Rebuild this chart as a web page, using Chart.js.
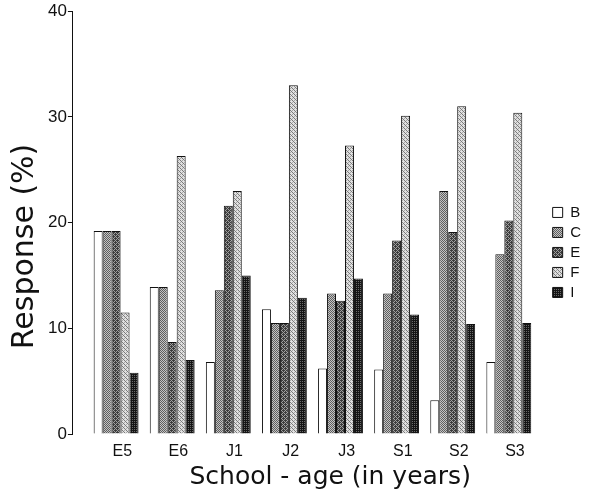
<!DOCTYPE html>
<html>
<head>
<meta charset="utf-8">
<script src="https://cdn.jsdelivr.net/npm/chart.js@4.4.1/dist/chart.umd.min.js"></script>
<style>
  html, body { margin: 0; padding: 0; background: #ffffff; }
  #wrap { position: relative; width: 596px; height: 497px; }
</style>
</head>
<body>
<div id="wrap"><canvas id="c"></canvas></div>
<script>
// ---- data ----
const categories = ['E5', 'E6', 'J1', 'J2', 'J3', 'S1', 'S2', 'S3'];
const seriesNames = ['B', 'C', 'E', 'F', 'I'];
const valuesB = [19.2, 13.9, 6.8, 11.8, 6.2, 6.1, 3.2, 6.8];
const valuesC = [19.2, 13.9, 13.6, 10.5, 13.3, 13.3, 23.0, 17.0];
const valuesE = [19.2, 8.7, 21.6, 10.5, 12.6, 18.3, 19.1, 20.2];
const valuesF = [11.5, 26.3, 23.0, 33.0, 27.3, 30.1, 31.0, 30.4];
const valuesI = [5.8, 7.0, 15.0, 12.9, 14.7, 11.3, 10.4, 10.5];
const yTicks = [0, 10, 20, 30, 40];
const xTitle = 'School - age (in years)';
const yTitle = 'Response (%)';

// ---- styling helpers ----
const FONT = "'Liberation Sans', Arial, sans-serif";
const TITLE_FONT = "'DejaVu Sans', 'Liberation Sans', sans-serif";
const TEXT = '#111111';
const bayer = [[0, 8, 2, 10], [12, 4, 14, 6], [3, 11, 1, 9], [15, 7, 13, 5]];

function ditherPattern(level, dark, light, hatch) {
  const n = hatch ? 8 : 4;
  const cv = document.createElement('canvas');
  cv.width = n; cv.height = n;
  const g = cv.getContext('2d');
  for (let y = 0; y < n; y++) {
    for (let x = 0; x < n; x++) {
      let col = bayer[y % 4][x % 4] < level * 16 ? dark : light;
      if (hatch && ((x - y + n) % 4 === 0)) col = hatch;
      g.fillStyle = col;
      g.fillRect(x, y, 1, 1);
    }
  }
  return g.createPattern(cv, 'repeat');
}
const ctx = document.getElementById('c').getContext('2d');
const fills = [
  '#ffffff',
  ditherPattern(0.5, '#5e5e5e', '#c4c4c4'),
  ditherPattern(0.6, '#3c3c3c', '#a0a0a0'),
  ditherPattern(0.3, '#a8a8a8', '#e0e0e0', '#7a7a7a'),
  ditherPattern(0.75, '#151515', '#6a6a6a')
];
const allValues = [valuesB, valuesC, valuesE, valuesF, valuesI];

const CATEGORY_PX = 56.1;   // horizontal spacing of the groups
const X_MIN = -0.77;        // gap between the y axis and the first group

const datasets = seriesNames.map((name, k) => ({
  label: name,
  data: allValues[k].map((v, i) => ({ x: i, y: v })),
  backgroundColor: fills[k],
  borderColor: '#111111',
  borderWidth: 1,
  categoryPercentage: 0.8,
  barPercentage: 1.0
}));

new Chart(ctx, {
  type: 'bar',
  data: { datasets },
  options: {
    responsive: true,
    maintainAspectRatio: false,
    animation: false,
    layout: { padding: { left: 4, top: 4.5, right: 5, bottom: 5 } },
    plugins: {
      tooltip: { enabled: false },
      legend: {
        position: 'right',
        align: 'center',
        title: { display: true, text: ' ', padding: 0, font: { size: 7 } },
        labels: {
          boxWidth: 10,
          boxHeight: 10,
          padding: 5,
          color: TEXT,
          font: { family: FONT, size: 15 }
        }
      }
    },
    scales: {
      x: {
        type: 'linear',
        offset: false,
        min: X_MIN,
        bounds: 'data',
        grid: { display: false, drawTicks: false },
        border: { display: false },
        afterDataLimits: (s) => { s.min = X_MIN; s.max = X_MIN + s.width / CATEGORY_PX; },
        afterBuildTicks: (s) => { s.ticks = categories.map((c, i) => ({ value: i + 0.11 })); },
        afterFit: (s) => { s.height = 58; },
        ticks: {
          autoSkip: false,
          maxRotation: 0,
          padding: 7.5,
          color: TEXT,
          font: { family: FONT, size: 16 },
          callback: (v, i) => categories[i]
        },
        title: {
          display: true,
          text: '     ' + xTitle,
          color: TEXT,
          font: { family: TITLE_FONT, size: 25 },
          padding: { top: 0, bottom: 0 }
        }
      },
      y: {
        min: 0,
        max: 40,
        afterBuildTicks: (s) => { s.ticks = yTicks.map(v => ({ value: v })); },
        grid: { display: true, drawOnChartArea: false, tickLength: 5, color: '#111111' },
        border: { display: true, color: '#111111', width: 1 },
        ticks: {
          padding: 1,
          color: TEXT,
          font: { family: FONT, size: 17 }
        },
        title: {
          display: true,
          text: yTitle + '     ',
          color: TEXT,
          font: { family: TITLE_FONT, size: 30 },
          padding: { top: 3, bottom: 4 }
        }
      }
    }
  }
});
</script>
</body>
</html>
